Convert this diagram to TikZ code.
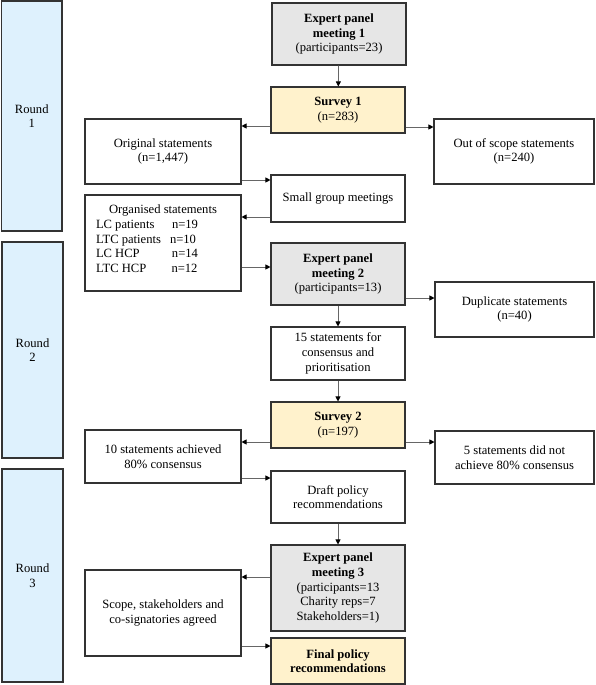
\documentclass[tikz,border=0pt]{standalone}
\usepackage{fontspec}
\setmainfont{Liberation Serif}
\usetikzlibrary{arrows.meta}
\definecolor{boxgray}{HTML}{E6E6E6}
\definecolor{boxyellow}{HTML}{FFF2CC}
\definecolor{boxblue}{HTML}{DEF1FD}
\definecolor{edge}{HTML}{333333}
\definecolor{linegray}{HTML}{666666}
\begin{document}
\begin{tikzpicture}[x=1pt,y=-1pt,
  box/.style={draw=edge,line width=1.1pt,fill=white,inner sep=2pt,align=center,
    font=\fontsize{12.6}{14.6}\selectfont},
  roundbox/.style={box,fill=boxblue},
  graybox/.style={box,fill=boxgray},
  yelbox/.style={box,fill=boxyellow},
  arr/.style={draw=linegray,line width=0.8pt,-{Triangle[length=5pt,width=5pt,fill=black,color=black]}}
]
\useasboundingbox (0,0) rectangle (595,685);
% rounds
\node[roundbox,minimum width=60.5pt,minimum height=230pt] (r1) at (31.75,116) {Round\\1};
\node[roundbox,minimum width=61pt,minimum height=216pt] (r2) at (32.5,350) {Round\\2};
\node[roundbox,minimum width=61pt,minimum height=213pt] (r3) at (32.5,575.5) {Round\\3};
% centre column
\node[graybox,minimum width=134pt,minimum height=62pt] (ep1) at (339,34) {\textbf{Expert panel}\\\textbf{meeting 1}\\(participants=23)};
\node[yelbox,minimum width=134pt,minimum height=46pt] (s1) at (338,110) {\textbf{Survey 1}\\(n=283)};
\node[box,minimum width=134pt,minimum height=47pt] (sg) at (338,198.5) {Small group meetings};
\node[graybox,minimum width=134pt,minimum height=62pt] (ep2) at (338,274) {\textbf{Expert panel}\\\textbf{meeting 2}\\(participants=13)};
\node[box,minimum width=134pt,minimum height=53pt] (s15) at (338,353.5) {15 statements for\\consensus and\\prioritisation};
\node[yelbox,minimum width=134pt,minimum height=46pt] (s2) at (338,425) {\textbf{Survey 2}\\(n=197)};
\node[box,minimum width=134pt,minimum height=52pt] (draft) at (338,497) {Draft policy\\recommendations};
\node[graybox,minimum width=134pt,minimum height=86pt] (ep3) at (338,588) {\textbf{Expert panel}\\\textbf{meeting 3}\\(participants=13\\Charity reps=7\\Stakeholders=1)};
\node[yelbox,minimum width=134pt,minimum height=46pt] (fin) at (338,661) {\textbf{Final policy}\\\textbf{recommendations}};
% left column
\node[box,minimum width=156pt,minimum height=65pt] (orig) at (163,151.5) {Original statements\\(n=1,447)};
\node[box,minimum width=156pt,minimum height=96pt] (org) at (163,243) {Organised statements\\[0pt]
  \makebox[148pt][l]{\hspace{7pt}\makebox[76pt][l]{LC patients}n=19}\\
  \makebox[148pt][l]{\hspace{7pt}\makebox[74pt][l]{LTC patients}n=10}\\
  \makebox[148pt][l]{\hspace{7pt}\makebox[76pt][l]{LC HCP}n=14}\\
  \makebox[148pt][l]{\hspace{7pt}\makebox[75.5pt][l]{LTC HCP}n=12}\\[-6pt]\mbox{}};
\node[box,minimum width=156pt,minimum height=53pt] (a10) at (163,456.5) {10 statements achieved\\80\% consensus};
\node[box,minimum width=156pt,minimum height=86pt] (scope) at (163,613) {Scope, stakeholders and\\co-signatories agreed};
% right column
\node[box,minimum width=160pt,minimum height=65pt] (oos) at (514,151.5) {Out of scope statements\\(n=240)};
\node[box,minimum width=159pt,minimum height=55pt] (dup) at (514.5,309.5) {Duplicate statements\\(n=40)};
\node[box,minimum width=159pt,minimum height=53pt] (n5) at (514.5,457.5) {5 statements did not\\achieve 80\% consensus};
% connectors
\draw[arr] (ep1) -- (s1);
\draw[arr] (s1.west |- 0,126) -- (orig.east |- 0,126);
\draw[arr] (s1.east |- 0,127) -- (oos.west |- 0,127);
\draw[arr] (orig.east |- 0,180) -- (sg.west |- 0,180);
\draw[arr] (sg.west |- 0,217) -- (org.east |- 0,217);
\draw[arr] (org.east |- 0,267) -- (ep2.west |- 0,267);
\draw[arr] (ep2.east |- 0,298) -- (dup.west |- 0,298);
\draw[arr] (ep2) -- (s15);
\draw[arr] (s15) -- (s2);
\draw[arr] (s2.west |- 0,442) -- (a10.east |- 0,442);
\draw[arr] (s2.east |- 0,442) -- (n5.west |- 0,442);
\draw[arr] (a10.east |- 0,478) -- (draft.west |- 0,478);
\draw[arr] (draft) -- (ep3);
\draw[arr] (ep3.west |- 0,577) -- (scope.east |- 0,577);
\draw[arr] (scope.east |- 0,646) -- (fin.west |- 0,646);
\end{tikzpicture}
\end{document}
